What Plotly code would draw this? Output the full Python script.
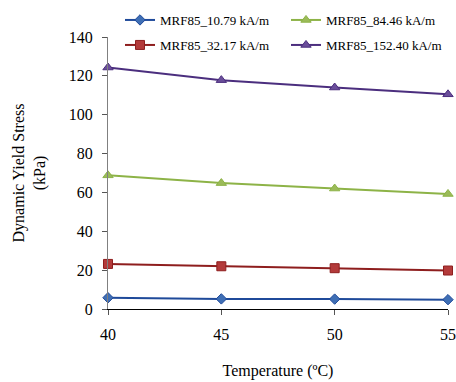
import plotly.graph_objects as go

temps = [40, 45, 50, 55]
names = ["MRF85_10.79 kA/m", "MRF85_32.17 kA/m", "MRF85_84.46 kA/m", "MRF85_152.40 kA/m"]
s1 = [5.8, 5.2, 5.1, 4.8]
s2 = [23.2, 22.0, 21.0, 19.8]
s3 = [68.8, 64.8, 62.0, 59.2]
s4 = [124.3, 117.8, 114.0, 110.5]
y_ticks = [0, 20, 40, 60, 80, 100, 120, 140]

series = [s1, s2, s3, s4]
line_colors = ["#1F4A9A", "#8E1E1E", "#8DB347", "#4B2E7E"]
marker_colors = ["#3F6FB5", "#B33A3A", "#9BBB59", "#6A4E9A"]
symbols = ["diamond", "square", "triangle-up", "triangle-up"]
sizes = [8, 9, 9, 9]
legends = ["legend", "legend2", "legend", "legend2"]

W, H = 456, 382
SERIF = "Liberation Serif"
fig = go.Figure()
for i in range(4):
    fig.add_trace(go.Scatter(
        x=temps, y=series[i], name=names[i], mode="lines+markers",
        line=dict(color=line_colors[i], width=2),
        marker=dict(symbol=symbols[i], size=sizes[i], color=marker_colors[i],
                    line=dict(color=line_colors[i], width=1)),
        legend=legends[i], cliponaxis=False,
    ))

leg_common = dict(orientation="h", xref="container", yref="container",
                  xanchor="left", yanchor="middle",
                  font=dict(family=SERIF, size=13, color="#000000"),
                  entrywidth=121, entrywidthmode="pixels",
                  bgcolor="rgba(0,0,0,0)", borderwidth=0)

fig.update_layout(
    width=W, height=H,
    paper_bgcolor="white", plot_bgcolor="white",
    margin=dict(l=108, r=8, t=37, b=73, autoexpand=False),
    font=dict(family=SERIF, size=16, color="#000000"),
    showlegend=True,
    legend=dict(x=120 / W, y=1 - 20 / H, **leg_common),
    legend2=dict(x=120 / W, y=1 - 45 / H, **leg_common),
    xaxis=dict(range=[40, 55], tickvals=temps, ticks="outside", ticklen=5,
               showline=True, linecolor="#000000", linewidth=1, tickcolor="#555555",
               showgrid=False, zeroline=False, ticklabeloverflow="allow",
               ticklabelstandoff=6,
               title=dict(text="Temperature (ºC)", font=dict(family=SERIF, size=16), standoff=22),
               tickfont=dict(family=SERIF, size=16, color="#000000")),
    yaxis=dict(range=[0, 140], tickvals=y_ticks, ticks="outside", ticklen=5,
               showline=True, linecolor="#808080", linewidth=1, tickcolor="#555555",
               showgrid=False, zeroline=False, ticklabeloverflow="allow",
               ticklabelstandoff=6,
               title=dict(text="Dynamic Yield Stress<br>(kPa)", font=dict(family=SERIF, size=16), standoff=19),
               tickfont=dict(family=SERIF, size=16, color="#000000")),
)
fig.write_html("out.html", config={"displayModeBar": False},
               post_script="document.body.style.margin='0';document.body.style.overflow='hidden';")
